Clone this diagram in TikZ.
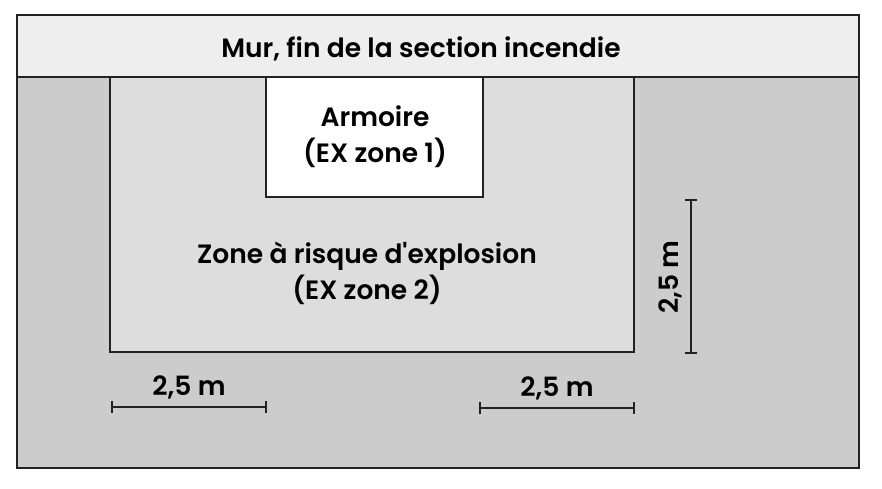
\documentclass[tikz,border=0pt]{standalone}
\usepackage{fontspec}
\setmainfont{Poppins}[UprightFont={* SemiBold}]
\begin{document}
\begin{tikzpicture}[x=1pt,y=-1pt,
  box/.style={draw=linec,line width=2.4pt},
  lbl/.style={font=\fontsize{26.5}{36}\selectfont,text=black,align=center,inner sep=0pt},
  dim/.style={draw=linec,line width=2pt},
]
\definecolor{linec}{HTML}{222222}
\definecolor{outerg}{HTML}{CCCCCC}
\definecolor{topg}{HTML}{EEEEEE}
\definecolor{zoneg}{HTML}{DDDDDD}
\useasboundingbox (0,0) rectangle (882,488);
\fill[white] (0,0) rectangle (882,488);
% outer
\path[fill=outerg] (17,77) rectangle (859,468);
\path[fill=topg] (17,15) rectangle (859,77);
\path[fill=zoneg,box] (110,77) rectangle (634,352);
\path[fill=white,box] (266,77) rectangle (483,197);
\draw[box] (17,15) rectangle (859,468);
\draw[box] (17,77) -- (859,77);
\node[lbl] (wall) at (421,49) {Mur, fin de la section incendie};
\node[lbl] (arm) at (375,137) {Armoire\\(EX zone 1)};
\node[lbl] (zone) at (367,273) {Zone à risque d\textquotesingle explosion\\(EX zone 2)};
% vertical dimension
\coordinate (v1) at (691,200);
\coordinate (v2) at (691,353);
\draw[dim] (v1) -- (v2);
\draw[dim] ([xshift=-6]v1) -- ([xshift=6]v1);
\draw[dim] ([xshift=-6]v2) -- ([xshift=6]v2);
\node[lbl,rotate=90] (vl) at (670,277) {2,5 m};
% horizontal left
\coordinate (h1) at (112,407);
\coordinate (h2) at (266,407);
\draw[dim] (h1) -- (h2);
\draw[dim] ([yshift=-6]h1) -- ([yshift=6]h1);
\draw[dim] ([yshift=-6]h2) -- ([yshift=6]h2);
\node[lbl] (hl) at (189,387) {2,5 m};
% horizontal right
\coordinate (r1) at (480,408);
\coordinate (r2) at (634,408);
\draw[dim] (r1) -- (r2);
\draw[dim] ([yshift=-6]r1) -- ([yshift=6]r1);
\draw[dim] ([yshift=-6]r2) -- ([yshift=6]r2);
\node[lbl] (hr) at (557,388) {2,5 m};
\end{tikzpicture}
\end{document}
